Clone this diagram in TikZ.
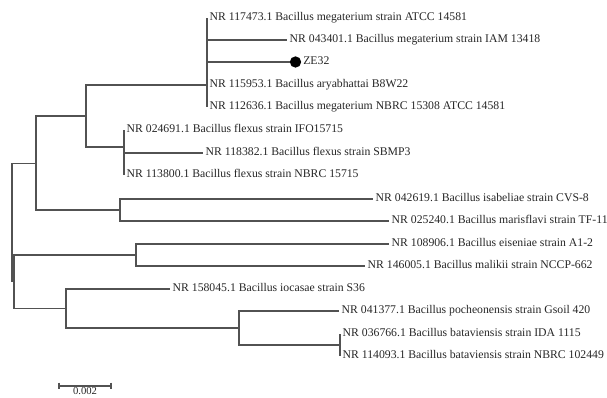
\documentclass[tikz,border=0pt]{standalone}
\usepackage{fontspec}
\setmainfont{Liberation Serif}
\usepackage{tikz}
\usetikzlibrary{positioning, calc}

\begin{document}
\begin{tikzpicture}[
  x=0.75pt, y=-0.75pt,
  font=\fontsize{8.8pt}{10pt}\selectfont,
  branch/.style={draw=black!68, line width=0.8pt},
  leaf/.style={
    anchor=west, inner xsep=1.8pt, inner ysep=0pt, text=black!85,
    text height=6pt, text depth=1.5pt
  }
]
\useasboundingbox (0,0) rectangle (607,398);

% ----- Noeuds internes -----
\coordinate (root)  at (12, 222);
\coordinate (inB)   at (14, 281.5);
\coordinate (inA)   at (36, 163.5);
\coordinate (megP)  at (86, 116);
\coordinate (meg)   at (207, 85);
\coordinate (flex)  at (124, 147);
\coordinate (isab)  at (120, 210);
\coordinate (eis)   at (136, 255);
\coordinate (ioc)   at (66, 308.5);
\coordinate (poch)  at (239, 328);
\coordinate (bata)  at (340, 345);

% ----- Feuilles -----
\node[leaf] (l117473) at (207, 18)  {NR 117473.1 Bacillus megaterium strain ATCC 14581};
\node[leaf] (l043401) at (287, 40)  {NR 043401.1 Bacillus megaterium strain IAM 13418};
\node[circle, fill=black, inner sep=0pt, minimum size=8.5pt] (ze32dot) at (295.5, 62) {};
\node[leaf, inner xsep=1.2pt] (ze32) at (ze32dot.east) {ZE32};
\node[leaf] (l115953) at (207, 85)  {NR 115953.1 Bacillus aryabhattai B8W22};
\node[leaf] (l112636) at (207, 107) {NR 112636.1 Bacillus megaterium NBRC 15308 ATCC 14581};
\node[leaf] (l024691) at (124, 130) {NR 024691.1 Bacillus flexus strain IFO15715};
\node[leaf] (l118382) at (203, 153) {NR 118382.1 Bacillus flexus strain SBMP3};
\node[leaf] (l113800) at (124, 175) {NR 113800.1 Bacillus flexus strain NBRC 15715};
\node[leaf] (l042619) at (373, 199) {NR 042619.1 Bacillus isabeliae strain CVS-8};
\node[leaf] (l025240) at (389, 221) {NR 025240.1 Bacillus marisflavi strain TF-11};
\node[leaf] (l108906) at (389, 244) {NR 108906.1 Bacillus eiseniae strain A1-2};
\node[leaf] (l146005) at (365, 266) {NR 146005.1 Bacillus malikii strain NCCP-662};
\node[leaf] (l158045) at (170, 289) {NR 158045.1 Bacillus iocasae strain S36};
\node[leaf] (l041377) at (339, 311) {NR 041377.1 Bacillus pocheonensis strain Gsoil 420};
\node[leaf] (l036766) at (340, 334) {NR 036766.1 Bacillus bataviensis strain IDA 1115};
\node[leaf] (l114093) at (340, 356) {NR 114093.1 Bacillus bataviensis strain NBRC 102449};

% ----- Branches -----
\draw[branch] (root) |- (inA);
\draw[branch] (root) |- (inB);
\draw[branch] (inA) |- (megP);
\draw[branch] (inA) |- (isab);
\draw[branch] (megP) |- (meg);
\draw[branch] (megP) |- (flex);
\draw[branch] (meg) |- (l117473.west);
\draw[branch] (meg) |- (l043401.west);
\draw[branch] (meg) |- (ze32dot.west);
\draw[branch] (meg) |- (l115953.west);
\draw[branch] (meg) |- (l112636.west);
\draw[branch] (flex) |- (l024691.west);
\draw[branch] (flex) |- (l118382.west);
\draw[branch] (flex) |- (l113800.west);
\draw[branch] (isab) |- (l042619.west);
\draw[branch] (isab) |- (l025240.west);
\draw[branch] (inB) |- (eis);
\draw[branch] (inB) |- (ioc);
\draw[branch] (eis) |- (l108906.west);
\draw[branch] (eis) |- (l146005.west);
\draw[branch] (ioc) |- (l158045.west);
\draw[branch] (ioc) |- (poch);
\draw[branch] (poch) |- (l041377.west);
\draw[branch] (poch) |- (bata);
\draw[branch] (bata) |- (l036766.west);
\draw[branch] (bata) |- (l114093.west);

% ----- Echelle -----
\coordinate (barL) at (59, 386);
\coordinate (barR) at (111, 386);
\draw[branch] (barL) -- (barR);
\draw[branch] ([yshift=2.5pt] barL) -- ([yshift=-2.5pt] barL);
\draw[branch] ([yshift=2.5pt] barR) -- ([yshift=-2.5pt] barR);
\node[text=black!85, anchor=north, inner sep=0.6pt, font=\fontsize{8pt}{9pt}\selectfont]
  (barlab) at ($(barL)!0.5!(barR)$) {0.002};

\end{tikzpicture}
\end{document}
